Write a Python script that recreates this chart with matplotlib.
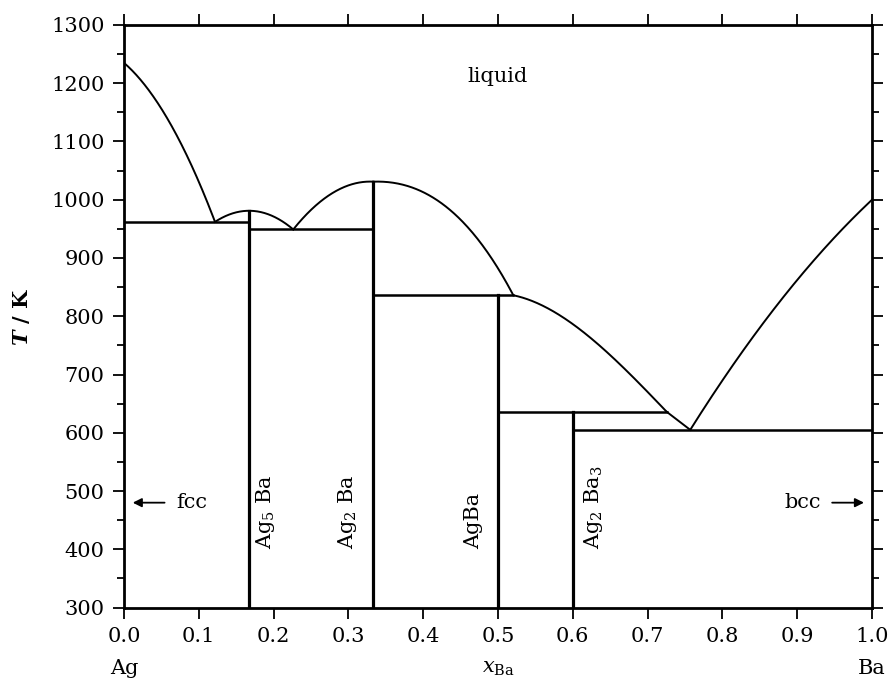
import numpy as np
import matplotlib
matplotlib.use('Agg')
import matplotlib.pyplot as plt
from matplotlib.ticker import MultipleLocator, FormatStrFormatter

plt.rcParams['font.family'] = ['DejaVu Serif']
plt.rcParams['mathtext.fontset'] = 'dejavuserif'

# --- liquidus branches (x_Ba, T/K) ---
ag_x = [0.0, 0.025, 0.05, 0.075, 0.1, 0.1217]
ag_T = [1235, 1201, 1156, 1100, 1031, 962]

ag5ba_x = [0.1217, 0.145, 0.1667, 0.19, 0.2263]
ag5ba_T = [962, 977, 981, 976, 949]

# Ag2Ba liquidus, split at the congruent maximum
ag2ba_l_x = [0.2263, 0.253, 0.284, 0.3333]
ag2ba_l_T = [949, 988, 1014, 1031]
ag2ba_r_x = [0.3333, 0.3868, 0.431, 0.476, 0.5205]
ag2ba_r_T = [1031, 1020, 988, 927, 836]

agba_x = [0.5205, 0.543, 0.61, 0.663, 0.712, 0.7255]
agba_T = [836, 828, 776, 719, 652, 636]

# straight piece from the peritectic to the eutectic
per_x = [0.7255, 0.757]
per_T = [636, 605]

ba_x = [0.757, 0.7878, 0.8325, 0.877, 0.9215, 0.966, 1.0]
ba_T = [605, 668, 754, 828, 891, 950, 1000]

# horizontal invariant lines: (x_start, x_end, T)
h_lines = [(0.0, 1/6, 962), (1/6, 1/3, 949), (1/3, 0.5205, 836),
           (0.5, 0.7255, 636), (0.6, 1.0, 605)]

# compounds: (x, T_top, label, label x)
compounds = [(1/6, 981, 'Ag$_{5}$ Ba', 0.189),
             (1/3, 1031, 'Ag$_{2}$ Ba', 0.2985),
             (0.5, 836, 'AgBa', 0.468),
             (0.6, 636, 'Ag$_{2}$ Ba$_{3}$', 0.627)]


def smooth(xs, ys, deg):
    # low order fit through the read points, ends held in place
    w = np.ones(len(xs))
    w[0] = w[-1] = 50
    coef = np.polyfit(xs, ys, deg, w=w)
    xx = np.linspace(xs[0], xs[-1], 200)
    return xx, np.polyval(coef, xx)


fig = plt.figure(figsize=(8.9, 6.84), dpi=100)
ax = fig.add_axes([0.1393, 0.1118, 0.8405, 0.8517])

branches = [(ag_x, ag_T, 2), (ag5ba_x, ag5ba_T, 2), (ag2ba_l_x, ag2ba_l_T, 2),
            (ag2ba_r_x, ag2ba_r_T, 3), (agba_x, agba_T, 3), (ba_x, ba_T, 2)]
for xs, Ts, deg in branches:
    xx, yy = smooth(xs, Ts, deg)
    ax.plot(xx, yy, color='black', lw=1.4)
ax.plot(per_x, per_T, color='black', lw=1.4)

for x0, x1, T in h_lines:
    ax.plot([x0, x1], [T, T], color='black', lw=1.8)

for x, Ttop, lab, lx in compounds:
    ax.plot([x, x], [300, Ttop], color='black', lw=2.3)
    ax.text(lx, 400, lab, rotation=90, ha='center', va='bottom', fontsize=15)

ax.text(0.5, 1212, 'liquid', ha='center', va='center', fontsize=15)
ax.annotate('', xy=(0.008, 480), xytext=(0.058, 480),
            arrowprops=dict(arrowstyle='-|>', color='black', lw=1.3,
                            mutation_scale=13))
ax.text(0.07, 480, 'fcc', ha='left', va='center', fontsize=15)
ax.annotate('', xy=(0.993, 480), xytext=(0.943, 480),
            arrowprops=dict(arrowstyle='-|>', color='black', lw=1.3,
                            mutation_scale=13))
ax.text(0.932, 480, 'bcc', ha='right', va='center', fontsize=15)

ax.set_xlim(0, 1)
ax.set_ylim(300, 1300)
ax.xaxis.set_major_locator(MultipleLocator(0.1))
ax.xaxis.set_major_formatter(FormatStrFormatter('%.1f'))
ax.yaxis.set_major_locator(MultipleLocator(100))
ax.yaxis.set_minor_locator(MultipleLocator(50))
ax.tick_params(which='both', direction='out', top=True, right=True,
               labelsize=15, width=1.3, color='black')
ax.tick_params(which='major', length=8, pad=6)
ax.tick_params(which='minor', length=5)
for s in ax.spines.values():
    s.set_linewidth(2.0)

ax.set_ylabel(r'$\mathbfit{T}$ / K', fontsize=15, fontweight='bold', labelpad=14)
ax.text(0.0, -0.105, 'Ag', transform=ax.transAxes, ha='center', va='center', fontsize=15)
ax.text(1.0, -0.105, 'Ba', transform=ax.transAxes, ha='center', va='center', fontsize=15)
ax.text(0.5, -0.105, r'$x_{\mathrm{Ba}}$', transform=ax.transAxes, ha='center',
        va='center', fontsize=15)

fig.savefig('out.png', dpi=100)
